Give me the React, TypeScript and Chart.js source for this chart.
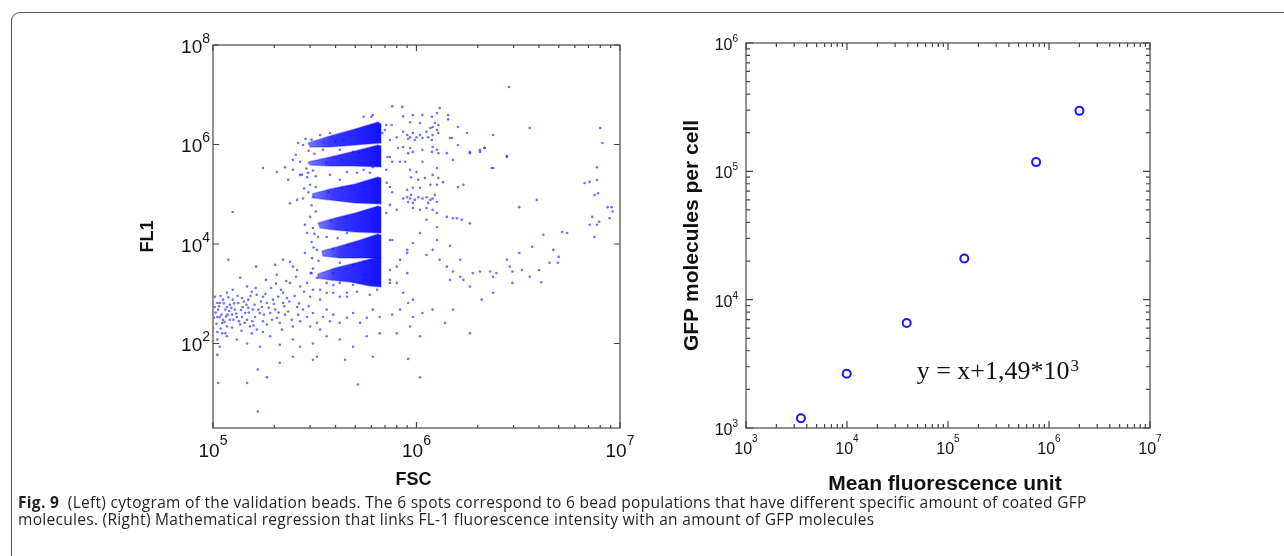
import React, { useEffect, useRef } from "react";
import { Chart, registerables } from "chart.js";

Chart.register(...registerables);

// ---------------- DATA ----------------
// Left panel: cytogram (FSC vs FL1), individual events
const FSC_FL1_EVENTS: [number, number][] = [
  // lower-left debris cloud
  [1.02e5, 870], [1.05e5, 650], [1.06e5, 480], [1.08e5, 340], [1.11e5, 260], [1.05e5, 170], [1.12e5, 760], [1.17e5, 540], [1.18e5, 380], [1.21e5, 300],
  [1.24e5, 210], [1.25e5, 760], [1.28e5, 480], [1.31e5, 340], [1.36e5, 240], [1.40e5, 540], [1.44e5, 410], [1.47e5, 300], [1.52e5, 220], [1.57e5, 480],
  [1.61e5, 340], [1.64e5, 190], [1.70e5, 410], [1.74e5, 540], [1.76e5, 280], [1.84e5, 240], [1.91e5, 410], [1.95e5, 300], [2.02e5, 480], [2.06e5, 330],
  [2.13e5, 260], [2.18e5, 190], [2.26e5, 380], [2.34e5, 440], [2.44e5, 300], [2.47e5, 220], [2.59e5, 540], [2.62e5, 380], [2.68e5, 280], [2.77e5, 480],
  [2.9e5, 340], [3.0e5, 220], [3.1e5, 410], [3.24e5, 260], [3.36e5, 190], [3.47e5, 340], [3.62e5, 480], [3.76e5, 280], [3.9e5, 380], [4.2e5, 260],
  [4.55e5, 330], [4.88e5, 410], [5.28e5, 260], [5.7e5, 330], [6.1e5, 480], [6.6e5, 340], [7.6e5, 380], [8.3e5, 480], [9.1e5, 650], [9.6e5, 340],
  [1.07e6, 410], [1.2e6, 480], [1.38e6, 260], [1.51e6, 480], [1.83e6, 160], [1.05e5, 120], [1.17e5, 140], [1.31e5, 120], [1.47e5, 100], [1.70e5, 86],
  [1.91e5, 140], [2.13e5, 94], [2.47e5, 120], [2.68e5, 86], [3.1e5, 100], [3.24e5, 54], [3.62e5, 140], [4.2e5, 120], [4.88e5, 86], [5.7e5, 140],
  [6.6e5, 160], [8.0e5, 160], [9.3e5, 220], [1.04e6, 140], [1.05e5, 59], [1.06e5, 16], [1.47e5, 16], [1.66e5, 30], [1.84e5, 21], [1.66e5, 4.3],
  [2.13e5, 41], [2.47e5, 54], [3.1e5, 47], [4.46e5, 47], [5.15e5, 15], [6.1e5, 54], [9.1e5, 49], [1.04e6, 21],
  [1.02e5, 540], [1.08e5, 650], [1.15e5, 480], [1.21e5, 600], [1.33e5, 650], [1.39e5, 820], [1.49e5, 760], [1.55e5, 1100], [1.64e5, 950], [1.76e5, 870],
  [1.84e5, 650], [1.97e5, 760], [2.09e5, 870], [2.21e5, 650], [2.31e5, 820], [1.05e5, 340], [1.12e5, 300], [1.17e5, 220], [1.24e5, 380], [1.39e5, 340],
  [1.49e5, 520], [1.08e5, 86], [1.11e5, 160], [1.55e5, 160], [1.76e5, 170], [1.25e5, 1200], [1.47e5, 1400], [1.17e5, 1050],
  [1.03e5, 420], [1.04e5, 250], [1.07e5, 560], [1.09e5, 900], [1.1e5, 380], [1.13e5, 640], [1.14e5, 270], [1.16e5, 350], [1.19e5, 850], [1.2e5, 450],
  [1.23e5, 520], [1.26e5, 300], [1.27e5, 640], [1.3e5, 400], [1.32e5, 900], [1.34e5, 280], [1.37e5, 470], [1.42e5, 700], [1.43e5, 260], [1.46e5, 600],
  [1.5e5, 420], [1.53e5, 900], [1.56e5, 280], [1.6e5, 600], [1.62e5, 1300], [1.67e5, 480], [1.72e5, 700], [1.78e5, 380], [1.81e5, 1000], [1.88e5, 520],
  [1.93e5, 1300], [1.99e5, 620], [2.04e5, 1600], [2.1e5, 420], [2.16e5, 1200], [2.24e5, 560], [2.29e5, 1800], [2.37e5, 700], [2.52e5, 900], [2.56e5, 2200],
  [2.65e5, 640], [2.8e5, 1100], [2.95e5, 560], [3.05e5, 2600], [1.0e5, 200], [1.01e5, 330], [1.09e5, 200], [1.15e5, 160], [1.38e5, 180], [1.58e5, 230],
  // between debris and beads
  [1.19e5, 4800], [1.63e5, 3500], [1.36e5, 2100], [1.82e5, 1900], [2.02e5, 3800], [2.39e5, 4400], [2.59e5, 3000], [2.06e5, 2400], [2.39e5, 1650], [2.21e5, 1050],
  [2.68e5, 1400], [2.9e5, 1650], [3.0e5, 870], [3.1e5, 1200], [3.36e5, 760], [3.62e5, 1050], [4.2e5, 870], [4.55e5, 1050], [5.1e5, 1100], [5.9e5, 950],
  [6.4e5, 1200], [3.62e5, 1650], [3.9e5, 1500], [3.24e5, 2100], [4.2e5, 1650], [4.88e5, 1500], [5.5e5, 1900], [7.4e5, 1900], [8.0e5, 1650], [7.4e5, 3000],
  [8.3e5, 4800], [9.0e5, 6600], [9.6e5, 10500], [7.6e5, 12000], [1.12e6, 6000], [1.2e6, 7600], [1.26e6, 12000], [1.3e6, 4800], [1.04e6, 16600], [1.12e6, 30600],
  [1.26e6, 22000], [1.41e6, 3500], [9.0e5, 2600], [9.6e5, 760],
  // diagonal trail to the right
  [1.46e6, 1900], [1.51e6, 2800], [1.64e6, 2200], [1.70e6, 1900], [1.83e6, 1400], [1.89e6, 2600], [2.05e6, 2800], [2.09e6, 760], [2.3e6, 2800], [2.38e6, 2200],
  [2.47e6, 2600], [2.78e6, 4800], [2.87e6, 3500], [2.96e6, 2800], [3.2e6, 6600], [3.3e6, 3000], [3.6e6, 2200], [3.7e6, 8800], [4.1e6, 1700], [4.2e6, 15300],
  [4.5e6, 4200], [4.95e6, 4200], [5.2e6, 17400], [5.5e6, 16600], [4.7e6, 7600], [7.3e6, 35000], [7.7e6, 24300], [7.1e6, 24300], [7.9e6, 28000], [8.7e6, 55000],
  [8.9e6, 33000], [7.5e6, 13800], [5.0e6, 5500], [1.51e6, 33000], [1.67e6, 30600], [1.83e6, 26000], [1.46e6, 9200], [1.64e6, 4800], [2.38e6, 1050], [2.96e6, 1650],
  [4.0e6, 3000],
  // far right and outliers
  [6.7e6, 1.68e5], [7.1e6, 1.77e5], [7.7e6, 1.93e5], [7.7e6, 3.5e5], [7.8e6, 1.05e5], [7.5e6, 9.6e4], [9.1e6, 5.5e4], [8.0e6, 2.15e6], [8.2e6, 1.07e6], [3.6e6, 2.15e6],
  [2.38e6, 1.55e6], [2.78e6, 5.9e5], [2.05e6, 7.7e5], [2.16e6, 8.5e5], [1.83e6, 6.7e5], [1.6e6, 9.8e5], [1.49e6, 1.35e6], [2.38e6, 3.37e5], [3.2e6, 5.5e4], [3.9e6, 7.7e4],
  [2.85e6, 1.43e7], [1.25e5, 4.4e4], [9.2e6, 4.5e4],
  // second population right of the beads
  [7.6e5, 5.9e6], [8.5e5, 5.7e6], [6.1e5, 3.9e6], [8.6e5, 3.7e6], [9.6e5, 3.9e6], [1.07e6, 3.9e6], [1.19e6, 3.6e6], [1.26e6, 4.3e6], [1.3e6, 5.4e6], [1.43e6, 3.9e6],
  [1.43e6, 3.2e6], [9.3e5, 2.8e6], [1.04e6, 2.7e6], [1.23e6, 2.7e6], [1.28e6, 2.47e6], [7.55e5, 2.47e6], [7.0e5, 1.95e6], [8.6e5, 1.8e6], [9.0e5, 1.55e6], [9.3e5, 1.4e6],
  [9.6e5, 1.7e6], [1.0e6, 1.4e6], [1.04e6, 1.55e6], [1.07e6, 1.35e6], [9.1e5, 1.3e6], [9.8e5, 1.23e6], [1.12e6, 1.8e6], [1.17e6, 2.15e6], [1.2e6, 2.25e6], [1.26e6, 1.95e6],
  [1.14e6, 1.4e6], [1.2e6, 1.55e6], [1.28e6, 1.7e6], [1.19e6, 1.23e6], [8.0e5, 1.4e6], [7.4e5, 1.23e6], [6.8e5, 1.7e6], [1.46e6, 1.35e6], [1.6e6, 2.25e6], [1.77e6, 1.7e6],
  [8.6e5, 8.9e5], [8.1e5, 8.5e5], [9.3e5, 8.5e5], [9.1e5, 6.7e5], [9.6e5, 7.1e5], [1.2e6, 8.9e5], [1.26e6, 7.8e5], [1.19e6, 7.1e5], [1.28e6, 6.7e5], [1.07e6, 7.8e5],
  [1.41e6, 6.7e5], [7.2e5, 5.6e5], [7.6e5, 4.5e5], [8.3e5, 4.5e5], [8.8e5, 4.5e5], [1.07e6, 4.5e5], [1.51e6, 4.9e5], [1.83e6, 7.1e5], [2.05e6, 7.1e5], [2.16e6, 8.5e5],
  [2.78e6, 5.6e5], [2.34e6, 3.37e5], [9.3e5, 3.1e5], [1.0e6, 2.8e5], [1.26e6, 3.37e5], [9.4e5, 2.2e5], [1.02e6, 1.95e5], [1.1e6, 2.12e5], [1.2e6, 2.45e5],
  [1.28e6, 2.12e5], [1.26e6, 1.55e5], [1.17e6, 1.55e5], [1.04e6, 1.35e5], [9.6e5, 1.35e5], [9.0e5, 1.23e5], [1.35e6, 1.75e5], [1.6e6, 1.4e5], [1.7e6, 1.55e5], [7.6e5, 1.1e5],
  [7.4e5, 1.4e5], [7.15e5, 1.7e5], [9.0e5, 8.7e4], [9.3e5, 8.2e4], [9.4e5, 9.7e4], [9.8e5, 7.7e4], [1.02e6, 8.7e4], [9.1e5, 7.0e4], [8.6e5, 8.2e4], [9.6e5, 6.7e4],
  [1.07e6, 8.2e4], [1.12e6, 8.7e4], [1.17e6, 7.7e4], [1.2e6, 8.2e4], [1.26e6, 7.0e4], [1.14e6, 6.7e4], [1.23e6, 9.7e4], [9.6e5, 5.3e4], [1.04e6, 4.85e4], [1.12e6, 5.3e4],
  [1.2e6, 4.85e4], [1.26e6, 4.2e4], [8.0e5, 4.85e4], [7.4e5, 6.1e4], [1.41e6, 3.5e4], [1.58e6, 3.3e4],
  // halo around the bead populations
  [2.26e5, 3.5e5], [2.62e5, 1.07e6], [2.77e5, 9.8e5], [2.47e5, 4.9e5], [2.68e5, 4.5e5], [2.34e5, 1.95e5], [2.73e5, 2.45e5], [2.93e5, 2.7e5], [3.0e5, 1.55e5], [2.77e5, 8.2e4],
  [2.59e5, 7.7e4], [3.1e5, 8.7e4], [3.76e5, 2.45e5], [4.55e5, 2.8e5], [5.1e5, 2.7e5], [5.5e5, 3.1e5], [5.9e5, 2.7e5], [4.2e5, 1.95e5], [5.5e5, 3.6e6], [6.0e5, 3.6e6],
  [7.1e5, 2.47e6], [7.4e5, 5.6e5], [7.1e5, 3.1e5], [6.1e5, 3.5e5], [3.47e5, 7.8e5], [4.2e5, 7.8e5], [4.88e5, 7.1e5], [3.76e5, 1.7e6], [3.36e5, 1.55e6],
  [1.76e5, 3.37e5], [2.06e5, 2.8e5], [2.68e5, 2.45e5], [2.9e5, 2.2e5], [2.47e5, 3.1e5],
  [2.39e5, 6.6e4], [2.83e5, 2.43e4], [3.1e5, 2.1e4], [2.9e5, 1.66e4], [2.21e5, 4800], [2.47e5, 3500], [2.83e5, 6600], [3.07e5, 5200], [3.24e5, 7600], [3.28e5, 1.38e4],
  [3.62e5, 1.38e4], [4.1e5, 1.3e4], [4.55e5, 1.66e4], [4.2e5, 4200], [4.88e5, 3800], [5.5e5, 4400], [3.36e5, 1200], [3.9e5, 1050], [4.55e5, 870], [7.1e5, 4.2e4],
  [7.4e5, 1.2e4], [8.0e5, 3500], [7.4e5, 1650], [9.0e5, 7600], [8.6e5, 1050],
  [2.85e5, 1.3e6], [3.05e5, 1.25e6], [2.95e5, 7.5e5], [3.15e5, 6.5e5], [2.55e5, 6.2e5], [2.88e5, 3.3e5], [3.1e5, 3.0e5], [3.2e5, 2.3e5], [2.8e5, 1.3e5], [3.2e5, 1.4e5],
  [2.95e5, 1.1e5], [3.05e5, 6.0e4], [3.2e5, 4.5e4], [3.0e5, 3.5e4], [3.15e5, 1.6e4], [3.05e5, 1.1e4], [3.12e5, 8.5e3], [3.3e5, 4.6e3], [3.1e5, 3.2e3], [3.02e5, 2.6e3],
  [3.5e5, 1.1e6], [4.0e5, 1.15e6], [4.4e5, 1.2e6], [3.6e5, 4.3e5], [4.3e5, 5.0e5], [3.7e5, 1.1e5], [4.3e5, 1.35e5], [3.8e5, 2.9e4], [4.5e5, 3.5e4], [3.9e5, 8.0e3],
  [4.6e5, 9.5e3], [3.9e5, 2.6e3], [4.5e5, 3.1e3], [5.6e5, 2.4e3], [6.3e5, 1.1e4], [6.0e5, 3.3e4], [5.5e5, 1.4e5], [6.2e5, 4.4e5], [6.4e5, 1.8e6], [5.2e5, 6.8e5],
];

// Outlines of the six dense bead populations (FSC, FL1)
const BEAD_POP_1: [number, number][] = [[2.93e5, 1.07e6], [3.76e5, 1.48e6], [4.99e5, 2.05e6], [6.47e5, 2.83e6], [6.69e5, 2.58e6], [6.69e5, 1.07e6], [4.99e5, 9.77e5], [3.76e5, 8.91e5], [3.0e5, 8.91e5]];
const BEAD_POP_2: [number, number][] = [[2.93e5, 4.45e5], [3.76e5, 5.61e5], [4.99e5, 7.4e5], [6.47e5, 9.77e5], [6.69e5, 9.33e5], [6.69e5, 3.53e5], [4.99e5, 3.7e5], [3.76e5, 3.7e5], [3.0e5, 3.87e5]];
const BEAD_POP_3: [number, number][] = [[3.07e5, 1.01e5], [3.76e5, 1.28e5], [4.99e5, 1.61e5], [6.47e5, 2.22e5], [6.69e5, 2.12e5], [6.69e5, 6.37e4], [4.99e5, 6.67e4], [3.76e5, 7.66e4], [3.14e5, 8.41e4]];
const BEAD_POP_4: [number, number][] = [[3.28e5, 2.64e4], [3.98e5, 3.33e4], [4.99e5, 4.2e4], [6.47e5, 5.81e4], [6.69e5, 5.54e4], [6.69e5, 1.66e4], [4.99e5, 1.74e4], [3.98e5, 1.91e4], [3.36e5, 2.1e4]];
const BEAD_POP_5: [number, number][] = [[3.43e5, 7.23e3], [4.21e5, 9.12e3], [5.28e5, 1.2e4], [6.47e5, 1.59e4], [6.69e5, 1.52e4], [6.69e5, 5.23e3], [5.28e5, 5.23e3], [4.21e5, 5.23e3], [3.47e5, 5.74e3]];
const BEAD_POP_6: [number, number][] = [[3.28e5, 2.49e3], [3.98e5, 3.3e3], [4.99e5, 4.15e3], [6.47e5, 5.48e3], [6.69e5, 5.23e3], [6.69e5, 1.37e3], [5.91e5, 1.43e3], [4.71e5, 1.72e3], [3.76e5, 1.89e3], [3.28e5, 2.07e3]];
const BEAD_POPS = [BEAD_POP_1, BEAD_POP_2, BEAD_POP_3, BEAD_POP_4, BEAD_POP_5, BEAD_POP_6];

const LEFT_X_RANGE = [1e5, 1e7];
const LEFT_Y_RANGE = [2, 1e8];
const LEFT_X_TICKS = [1e5, 1e6, 1e7];
const LEFT_Y_TICKS = [1e2, 1e4, 1e6, 1e8];
const LEFT_X_TITLE = "FSC";
const LEFT_Y_TITLE = "FL1";

// Right panel: regression
const MEAN_FLUORESCENCE = [3.5e3, 9.93e3, 3.9e4, 1.45e5, 7.45e5, 2.0e6];
const GFP_PER_CELL = [1.19e3, 2.65e3, 6.58e3, 2.09e4, 1.18e5, 2.96e5];
const RIGHT_X_RANGE = [1e3, 1e7];
const RIGHT_Y_RANGE = [1e3, 1e6];
const RIGHT_X_TICKS = [1e3, 1e4, 1e5, 1e6, 1e7];
const RIGHT_Y_TICKS = [1e3, 1e4, 1e5, 1e6];
const RIGHT_X_TITLE = "Mean fluorescence unit";
const RIGHT_Y_TITLE = "GFP molecules per cell";
const EQUATION_TEXT = "y = x+1,49*10";
const EQUATION_EXP = "3";
const EQUATION_AT = [4.9e4, 2.4e3];

const CAPTION_LABEL = "Fig. 9";
const CAPTION_LINE_1 =
  "(Left) cytogram of the validation beads. The 6 spots correspond to 6 bead populations that have different specific amount of coated GFP";
const CAPTION_LINE_2 =
  "molecules. (Right) Mathematical regression that links FL-1 fluorescence intensity with an amount of GFP molecules";

// ---------------- helpers ----------------
const toXY = (pts: [number, number][]) => pts.map(([x, y]) => ({ x, y }));

function minorValues(min: number, max: number): number[] {
  const out: number[] = [];
  for (let d = Math.floor(Math.log10(min)); d <= Math.ceil(Math.log10(max)); d++) {
    for (let k = 2; k <= 9; k++) {
      const v = k * Math.pow(10, d);
      if (v > min * 1.0001 && v < max * 0.9999) out.push(v);
    }
  }
  return out;
}

interface AxisStyle {
  xTicks: number[];
  yTicks: number[];
  xMinor: boolean;
  yMinor: boolean;
  majorLen: number;
  minorLen: number;
  baseFont: string;
  expFont: string;
  xLabelDrop: number;
  xExpRise: number;
  yLabelGap: number;
  yLabelDrop: number;
  yExpRise: number;
  xTitle: string;
  yTitle: string;
  titleFont: string;
  xTitleDrop: number;
  yTitleGap: number;
  xTitleShift: number;
  annotation?: { text: string; exp: string; at: number[]; font: string; expFont: string; expRise: number };
}

function drawPower(ctx: CanvasRenderingContext2D, exp: string, x: number, y: number, align: "center" | "right", s: AxisStyle, rise: number) {
  ctx.font = s.baseFont;
  const wb = ctx.measureText("10").width;
  ctx.font = s.expFont;
  const we = ctx.measureText(exp).width;
  const total = wb + we;
  const left = align === "center" ? x - total / 2 : x - total;
  ctx.textAlign = "left";
  ctx.textBaseline = "alphabetic";
  ctx.font = s.baseFont;
  ctx.fillText("10", left, y);
  ctx.font = s.expFont;
  ctx.fillText(exp, left + wb, y - rise);
}

function frameAxesPlugin(s: AxisStyle) {
  return {
    id: "frameAxes",
    afterDraw(chart: any) {
      const ctx: CanvasRenderingContext2D = chart.ctx;
      const a = chart.chartArea;
      const xs = chart.scales.x;
      const ys = chart.scales.y;
      ctx.save();
      ctx.strokeStyle = "#6e6e6e";
      ctx.lineWidth = 1.5;
      ctx.strokeRect(a.left, a.top, a.right - a.left, a.bottom - a.top);
      ctx.lineWidth = 1.2;
      ctx.strokeStyle = "#444";
      ctx.beginPath();
      const xTick = (v: number, len: number) => {
        const p = xs.getPixelForValue(v);
        ctx.moveTo(p, a.bottom);
        ctx.lineTo(p, a.bottom - len);
        ctx.moveTo(p, a.top);
        ctx.lineTo(p, a.top + len);
      };
      const yTick = (v: number, len: number) => {
        const p = ys.getPixelForValue(v);
        ctx.moveTo(a.left, p);
        ctx.lineTo(a.left + len, p);
        ctx.moveTo(a.right, p);
        ctx.lineTo(a.right - len, p);
      };
      s.xTicks.forEach((v) => xTick(v, s.majorLen));
      s.yTicks.forEach((v) => yTick(v, s.majorLen));
      if (s.xMinor) minorValues(xs.min, xs.max).forEach((v) => xTick(v, s.minorLen));
      if (s.yMinor) minorValues(ys.min, ys.max).forEach((v) => yTick(v, s.minorLen));
      ctx.stroke();
      ctx.fillStyle = "#111";
      s.xTicks.forEach((v) => {
        const p = xs.getPixelForValue(v);
        drawPower(ctx, String(Math.round(Math.log10(v))), p, a.bottom + s.xLabelDrop, "center", s, s.xExpRise);
      });
      s.yTicks.forEach((v) => {
        const p = ys.getPixelForValue(v);
        drawPower(ctx, String(Math.round(Math.log10(v))), a.left - s.yLabelGap, p + s.yLabelDrop, "right", s, s.yExpRise);
      });
      ctx.font = s.titleFont;
      ctx.textAlign = "center";
      ctx.textBaseline = "alphabetic";
      ctx.fillText(s.xTitle, (a.left + a.right) / 2 + s.xTitleShift, a.bottom + s.xTitleDrop);
      ctx.save();
      ctx.translate(a.left - s.yTitleGap, (a.top + a.bottom) / 2);
      ctx.rotate(-Math.PI / 2);
      ctx.fillText(s.yTitle, 0, 0);
      ctx.restore();
      if (s.annotation) {
        const an = s.annotation;
        const px = xs.getPixelForValue(an.at[0]);
        const py = ys.getPixelForValue(an.at[1]);
        ctx.textAlign = "left";
        ctx.font = an.font;
        ctx.fillText(an.text, px, py);
        const w = ctx.measureText(an.text).width;
        ctx.font = an.expFont;
        ctx.fillText(an.exp, px + w + 1, py - an.expRise);
      }
      ctx.restore();
    },
  };
}

const LEFT_STYLE: AxisStyle = {
  xTicks: LEFT_X_TICKS,
  yTicks: LEFT_Y_TICKS,
  xMinor: true,
  yMinor: false,
  majorLen: 6,
  minorLen: 3,
  baseFont: '19px "Liberation Sans", Arial, sans-serif',
  expFont: '14px "Liberation Sans", Arial, sans-serif',
  xLabelDrop: 29,
  xExpRise: 12,
  yLabelGap: 3,
  yLabelDrop: 8,
  yExpRise: 10,
  xTitle: LEFT_X_TITLE,
  yTitle: LEFT_Y_TITLE,
  titleFont: 'bold 18px "Liberation Sans", Arial, sans-serif',
  xTitleDrop: 57,
  yTitleGap: 60,
  xTitleShift: -3,
};

const RIGHT_STYLE: AxisStyle = {
  xTicks: RIGHT_X_TICKS,
  yTicks: RIGHT_Y_TICKS,
  xMinor: true,
  yMinor: true,
  majorLen: 7,
  minorLen: 4,
  baseFont: '16px "Liberation Sans", Arial, sans-serif',
  expFont: '10px "Liberation Sans", Arial, sans-serif',
  xLabelDrop: 26,
  xExpRise: 12,
  yLabelGap: 8,
  yLabelDrop: 7,
  yExpRise: 8,
  xTitle: RIGHT_X_TITLE,
  yTitle: RIGHT_Y_TITLE,
  titleFont: 'bold 21px "Liberation Sans", Arial, sans-serif',
  xTitleDrop: 62,
  yTitleGap: 48,
  xTitleShift: -3,
  annotation: {
    text: EQUATION_TEXT,
    exp: EQUATION_EXP,
    at: EQUATION_AT,
    font: '26px "Liberation Serif", "Times New Roman", serif',
    expFont: '17px "Liberation Serif", "Times New Roman", serif',
    expRise: 8,
  },
};

function bandFill(pop: [number, number][]) {
  return (c: any) => {
    const chart = c.chart;
    const xs = chart.scales && chart.scales.x;
    if (!xs || !chart.chartArea) return "rgba(16,16,255,0.88)";
    const xsVals = pop.map((p) => p[0]);
    const x0 = xs.getPixelForValue(Math.min(...xsVals));
    const x1 = xs.getPixelForValue(Math.max(...xsVals));
    if (!isFinite(x0) || !isFinite(x1) || x1 <= x0) return "rgba(16,16,255,0.88)";
    const g = chart.ctx.createLinearGradient(x0, 0, x1, 0);
    g.addColorStop(0, "rgba(35,35,255,0.6)");
    g.addColorStop(0.3, "rgba(22,22,255,0.85)");
    g.addColorStop(1, "rgba(8,8,255,0.96)");
    return g;
  };
}

function leftConfig(): any {
  return {
    type: "scatter",
    data: {
      datasets: [
        ...BEAD_POPS.map((pop) => ({
          type: "line",
          data: toXY([...pop, pop[0]]),
          fill: "shape",
          backgroundColor: bandFill(pop),
          borderColor: "rgba(30,30,255,0.35)",
          borderWidth: 1.5,
          pointRadius: 0,
          tension: 0,
        })),
        {
          type: "scatter",
          data: toXY(FSC_FL1_EVENTS),
          pointRadius: 1.3,
          backgroundColor: "rgba(35,35,255,0.65)",
          borderWidth: 0,
        },
      ],
    },
    options: {
      responsive: false,
      animation: false,
      devicePixelRatio: 1,
      events: [],
      layout: { padding: { left: 93, right: 30, top: 25, bottom: 72 } },
      plugins: { legend: { display: false }, tooltip: { enabled: false } },
      scales: {
        x: { type: "logarithmic", min: LEFT_X_RANGE[0], max: LEFT_X_RANGE[1], display: false },
        y: { type: "logarithmic", min: LEFT_Y_RANGE[0], max: LEFT_Y_RANGE[1], display: false },
      },
    },
    plugins: [frameAxesPlugin(LEFT_STYLE)],
  };
}

function rightConfig(): any {
  return {
    type: "scatter",
    data: {
      datasets: [
        {
          data: MEAN_FLUORESCENCE.map((x, i) => ({ x, y: GFP_PER_CELL[i] })),
          pointRadius: 4,
          pointStyle: "circle",
          borderWidth: 2,
          borderColor: "#1717ff",
          backgroundColor: "rgba(0,0,0,0)",
        },
      ],
    },
    options: {
      responsive: false,
      animation: false,
      devicePixelRatio: 1,
      events: [],
      layout: { padding: { left: 81, right: 30, top: 23, bottom: 72 } },
      plugins: { legend: { display: false }, tooltip: { enabled: false } },
      scales: {
        x: { type: "logarithmic", min: RIGHT_X_RANGE[0], max: RIGHT_X_RANGE[1], display: false },
        y: { type: "logarithmic", min: RIGHT_Y_RANGE[0], max: RIGHT_Y_RANGE[1], display: false },
      },
    },
    plugins: [frameAxesPlugin(RIGHT_STYLE)],
  };
}

function Panel(props: { left: number; top: number; width: number; height: number; make: () => any }) {
  const ref = useRef<HTMLCanvasElement | null>(null);
  useEffect(() => {
    const chart = new Chart(ref.current as HTMLCanvasElement, props.make());
    return () => chart.destroy();
  }, []);
  return (
    <canvas
      ref={ref}
      width={props.width}
      height={props.height}
      style={{ position: "absolute", left: props.left, top: props.top, width: props.width, height: props.height }}
    />
  );
}

export default function App() {
  return (
    <div style={{ position: "absolute", left: 0, top: 0, width: 1284, height: 556, overflow: "hidden", background: "#fff" }}>
      <div
        style={{
          position: "absolute",
          left: 11,
          top: 12,
          width: 1300,
          height: 545,
          borderTop: "1.5px solid #555",
          borderLeft: "1.5px solid #555",
          borderTopLeftRadius: 9,
        }}
      />
      <Panel left={120} top={20} width={530} height={480} make={leftConfig} />
      <Panel left={665} top={20} width={515} height={480} make={rightConfig} />
      <div
        style={{
          position: "absolute",
          left: 18,
          top: 494,
          font: '15.5px "Open Sans", Lato, sans-serif',
          color: "#231f20",
          whiteSpace: "nowrap",
          lineHeight: "17px",
          letterSpacing: "0.3px",
        }}
      >
        <div>
          <b>{CAPTION_LABEL}</b>
          {"\u00a0\u00a0"}
          {CAPTION_LINE_1}
        </div>
        <div>{CAPTION_LINE_2}</div>
      </div>
    </div>
  );
}
